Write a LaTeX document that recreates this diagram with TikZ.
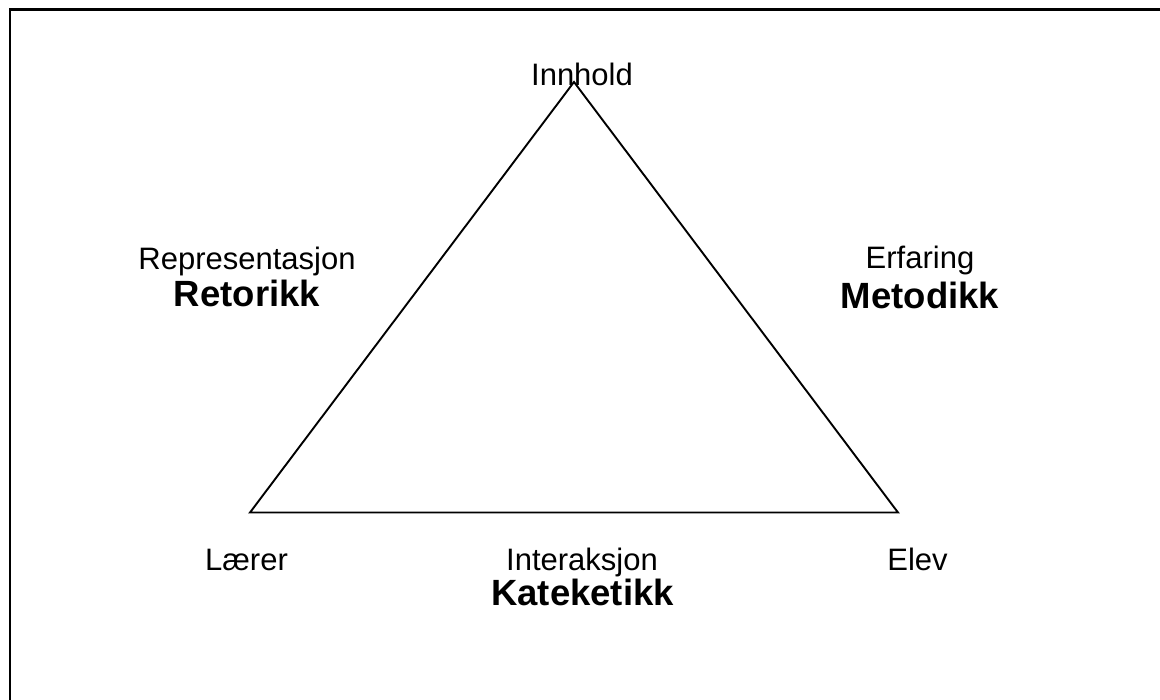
\documentclass[tikz,border=0pt]{standalone}
\usepackage{fontspec}
\setmainfont{Liberation Sans}
\begin{document}
\begin{tikzpicture}[x=1pt,y=-1pt,
  lbl/.style={anchor=base,inner sep=0pt,font=\fontsize{31}{36}\selectfont},
  lblb/.style={lbl,font=\fontsize{36.5}{42}\selectfont\bfseries},
  edge/.style={line width=1.9pt,line join=miter},
  frame/.style={line width=2.6pt}]
\useasboundingbox (0,0) rectangle (1160,700);
% partial outer frame
\coordinate (fbl) at (10,700);
\coordinate (ftl) at (10,9.5);
\coordinate (ftr) at (1160,9.5);
\draw[frame] (fbl) -- (ftl) -- (ftr);
% triangle corners
\coordinate (top) at (574,82);
\coordinate (left) at (250,512.5);
\coordinate (right) at (898,512.5);
\draw[edge] (top) -- (left) -- (right) -- cycle;
% corner labels
\node[lbl] (innhold) at (582,86) {Innhold};
\node[lbl] (laerer) at (246.5,570) {Lærer};
\node[lbl] (elev) at (917.5,570) {Elev};
% side labels
\node[lbl] (repr) at (247,270) {Representasjon};
\node[lblb] (retorikk) at (247,307) {Retorikk};
\node[lbl] (erfaring) at (920,269) {Erfaring};
\node[lblb] (metodikk) at (920,309) {Metodikk};
\node[lbl] (interaksjon) at (582,570) {Interaksjon};
\node[lblb] (kateketikk) at (582.5,605) {Kateketikk};
\end{tikzpicture}
\end{document}
